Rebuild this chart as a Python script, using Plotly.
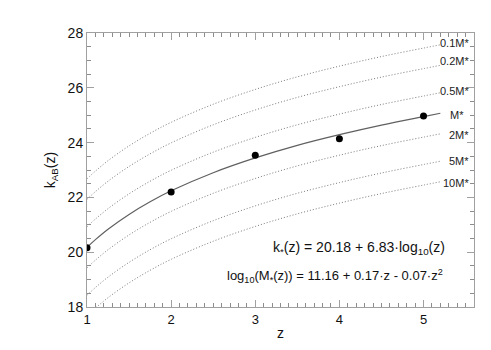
import plotly.graph_objects as go

# Sample redshifts for the curves
z_curve = [1.0, 1.1, 1.25, 1.5, 1.75, 2.0, 2.5, 3.0, 3.5, 4.0, 4.5, 5.0, 5.2]

k_mstar = [20.18, 20.46, 20.84, 21.38, 21.84, 22.24, 22.90, 23.44, 23.90, 24.29, 24.64, 24.95, 25.07]
k_01 = [22.68, 22.96, 23.34, 23.88, 24.34, 24.74, 25.40, 25.94, 26.40, 26.79, 27.14, 27.45, 27.57]
k_02 = [21.93, 22.21, 22.59, 23.13, 23.59, 23.99, 24.65, 25.19, 25.65, 26.04, 26.39, 26.70, 26.82]
k_05 = [20.93, 21.21, 21.59, 22.13, 22.59, 22.99, 23.65, 24.19, 24.65, 25.04, 25.39, 25.70, 25.82]
k_2 = [19.43, 19.71, 20.09, 20.63, 21.09, 21.49, 22.15, 22.69, 23.15, 23.54, 23.89, 24.20, 24.32]
k_5 = [18.43, 18.71, 19.09, 19.63, 20.09, 20.49, 21.15, 21.69, 22.15, 22.54, 22.89, 23.20, 23.32]
k_10 = [17.68, 17.96, 18.34, 18.88, 19.34, 19.74, 20.40, 20.94, 21.40, 21.79, 22.14, 22.45, 22.57]

# Data points
z_pts = [1, 2, 3, 4, 5]
k_pts = [20.16, 22.20, 23.54, 24.14, 24.97]

# Curve labels
dotted_names = ["0.1M*", "0.2M*", "0.5M*", "2M*", "5M*", "10M*"]
dotted_vals = [k_01, k_02, k_05, k_2, k_5, k_10]
label_y = [27.64, 26.98, 25.89, 24.28, 23.34, 22.54]
mstar_label = "M*"
mstar_label_y = 25.01

eq1 = "k<sub>*</sub>(z) = 20.18 + 6.83·log<sub>10</sub>(z)"
eq2 = "log<sub>10</sub>(M<sub>*</sub>(z)) = 11.16 + 0.17·z - 0.07·z<sup>2</sup>"

FONT = "Liberation Sans, Arial, Helvetica, sans-serif"
AXC = "#a0a0a0"
MINC = "#8c8c8c"

fig = go.Figure()
for name, vals in zip(dotted_names, dotted_vals):
    fig.add_trace(go.Scatter(x=z_curve, y=vals, mode="lines", line_shape="spline",
                             line=dict(color="#7a7a7a", width=1, dash="1px,2px"),
                             showlegend=False, hoverinfo="skip"))
fig.add_trace(go.Scatter(x=z_curve, y=k_mstar, mode="lines", line_shape="spline",
                         line=dict(color="#606060", width=1.2),
                         showlegend=False))
fig.add_trace(go.Scatter(x=z_pts, y=k_pts, mode="markers",
                         marker=dict(color="black", size=7),
                         showlegend=False))

annotations = []
for name, ly in zip(dotted_names, label_y):
    annotations.append(dict(x=5.565, y=ly, xref="x", yref="y", text=name, showarrow=False,
                            xanchor="right", yanchor="middle",
                            font=dict(family=FONT, size=11, color="#222222")))
annotations.append(dict(x=5.50, y=mstar_label_y, xref="x", yref="y", text=mstar_label,
                        showarrow=False, xanchor="right", yanchor="middle",
                        font=dict(family=FONT, size=11, color="#222222")))
annotations.append(dict(x=5.28, y=20.14, xref="x", yref="y", text=eq1, showarrow=False,
                        xanchor="right", yanchor="middle",
                        font=dict(family=FONT, size=14, color="#111111")))
annotations.append(dict(x=5.26, y=19.14, xref="x", yref="y", text=eq2, showarrow=False,
                        xanchor="right", yanchor="middle",
                        font=dict(family=FONT, size=13, color="#111111")))

fig.update_layout(
    width=491, height=350,
    margin=dict(l=79, r=25, t=25, b=51),
    paper_bgcolor="white", plot_bgcolor="white",
    font=dict(family=FONT, size=13, color="#111111"),
    annotations=annotations,
)
fig.update_xaxes(range=[1, 5.6], tickmode="linear", tick0=1, dtick=1,
                 ticks="inside", ticklen=7,
                 tickcolor=AXC, showline=True, linecolor=AXC, linewidth=1,
                 mirror="ticks", showgrid=False, zeroline=False,
                 minor=dict(dtick=0.1, tick0=1, ticks="inside", ticklen=4, tickcolor=MINC,
                            showgrid=False),
                 title=dict(text="z", font=dict(size=14), standoff=2),
                 tickfont=dict(size=13))
fig.update_yaxes(range=[18, 28], tickmode="linear", tick0=18, dtick=2,
                 ticks="inside", ticklen=7,
                 tickcolor=AXC, showline=True, linecolor=AXC, linewidth=1,
                 mirror="ticks", showgrid=False, zeroline=False,
                 minor=dict(dtick=0.5, tick0=18, ticks="inside", ticklen=4, tickcolor=MINC,
                            showgrid=False),
                 title=dict(text="k<sub>AB</sub>(z)", font=dict(size=14), standoff=8),
                 tickfont=dict(size=14))

fig.write_html("out.html")
